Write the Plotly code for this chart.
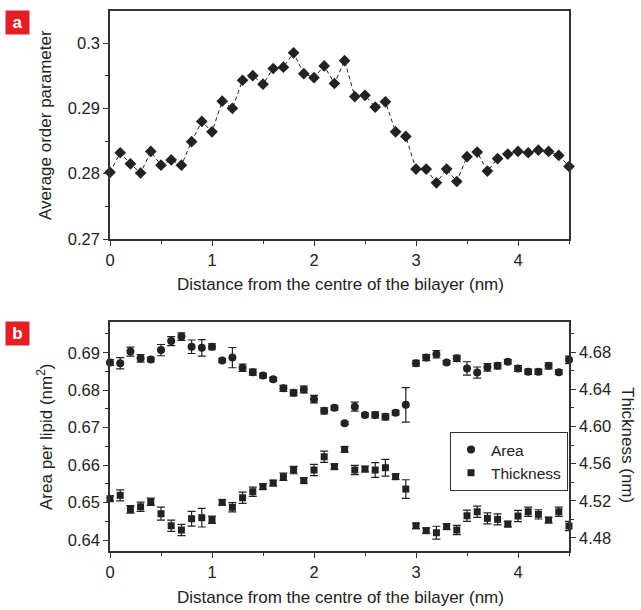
import plotly.graph_objects as go

# ---------------- data ----------------
dist = [round(0.1 * i, 1) for i in range(46)]

order_param = [0.2802, 0.2832, 0.2815, 0.2801, 0.2834, 0.2813, 0.2821, 0.2813, 0.2849, 0.2880,
               0.2864, 0.2911, 0.2900, 0.2943, 0.2950, 0.2937, 0.2961, 0.2963, 0.2985, 0.2953,
               0.2947, 0.2965, 0.2938, 0.2973, 0.2918, 0.2920, 0.2902, 0.2910, 0.2864, 0.2857,
               0.2807, 0.2807, 0.2786, 0.2807, 0.2788, 0.2826, 0.2833, 0.2804, 0.2823, 0.2830,
               0.2834, 0.2832, 0.2836, 0.2834, 0.2828, 0.2811]

area = [0.6874, 0.6872, 0.6903, 0.6885, 0.6882, 0.6907, 0.6931, 0.6943, 0.6916, 0.6913,
        0.6916, 0.6879, 0.6887, 0.6860, 0.6848, 0.6839, 0.6829, 0.6805, 0.6793, 0.6802,
        0.6776, 0.6745, 0.6753, 0.6712, 0.6756, 0.6734, 0.6734, 0.6729, 0.6740, 0.6761,
        0.6872, 0.6887, 0.6896, 0.6874, 0.6885, 0.6858, 0.6847, 0.6861, 0.6865, 0.6876,
        0.6858, 0.6849, 0.6849, 0.6865, 0.6848, 0.6881]
area_err = [0.0008, 0.0015, 0.0012, 0.0010, 0.0006, 0.0015, 0.0012, 0.0010, 0.0018, 0.0022,
            0.0008, 0.0005, 0.0027, 0.0010, 0.0008, 0.0006, 0.0005, 0.0008, 0.0008, 0.0009,
            0.0010, 0.0008, 0.0006, 0.0004, 0.0012, 0.0005, 0.0008, 0.0008, 0.0006, 0.0046,
            0.0008, 0.0008, 0.0010, 0.0005, 0.0008, 0.0018, 0.0015, 0.0010, 0.0008, 0.0006,
            0.0008, 0.0007, 0.0007, 0.0008, 0.0006, 0.0010]

thickness = [4.5222, 4.5258, 4.5107, 4.5135, 4.5189, 4.5060, 4.4930, 4.4884, 4.5006, 4.5017,
             4.4995, 4.5183, 4.5129, 4.5232, 4.5297, 4.5351, 4.5391, 4.5459, 4.5531, 4.5416,
             4.5531, 4.5674, 4.5567, 4.5754, 4.5531, 4.5542, 4.5531, 4.5556, 4.5459, 4.5326,
             4.4930, 4.4877, 4.4855, 4.4920, 4.4884, 4.5038, 4.5081, 4.5010, 4.4999, 4.4949,
             4.5035, 4.5081, 4.5053, 4.4992, 4.5081, 4.4927]
thick_err = [0.003, 0.006, 0.004, 0.005, 0.004, 0.007, 0.006, 0.006, 0.008, 0.010,
             0.004, 0.003, 0.005, 0.006, 0.005, 0.003, 0.003, 0.004, 0.004, 0.003,
             0.006, 0.006, 0.003, 0.003, 0.005, 0.003, 0.008, 0.009, 0.003, 0.010,
             0.003, 0.003, 0.007, 0.003, 0.005, 0.006, 0.006, 0.006, 0.006, 0.003,
             0.006, 0.005, 0.005, 0.003, 0.005, 0.005]

x_ticks = [0, 1, 2, 3, 4]
ya_ticks = [0.27, 0.28, 0.29, 0.30]
ya_labels = ["0.27", "0.28", "0.29", "0.3"]
yb_ticks = [0.64, 0.65, 0.66, 0.67, 0.68, 0.69]
yb_labels = ["0.64", "0.65", "0.66", "0.67", "0.68", "0.69"]
yt_ticks = [4.48, 4.52, 4.56, 4.60, 4.64, 4.68]
yt_labels = ["4.48", "4.52", "4.56", "4.60", "4.64", "4.68"]
yt_minor = [4.50, 4.54, 4.58, 4.62, 4.66, 4.70]

# ---------------- styling ----------------
FONT = "Liberation Sans, Arial, sans-serif"
INK = "#222222"
AX = "#333333"
W, H = 641, 610

def px_x(p):
    return p / W

def px_y(p):
    return 1 - p / H

fig = go.Figure()

fig.add_trace(go.Scatter(
    x=dist, y=order_param, mode="lines+markers", xaxis="x", yaxis="y",
    line=dict(color=INK, width=1, dash="4px,3px"),
    marker=dict(symbol="diamond", size=9, color=INK),
    showlegend=False, cliponaxis=False))

fig.add_trace(go.Scatter(
    x=dist, y=area, mode="markers", xaxis="x2", yaxis="y2", name="Area",
    marker=dict(symbol="circle", size=8, color=INK),
    error_y=dict(type="data", array=area_err, color=INK, thickness=1.2, width=4),
    cliponaxis=False))

fig.add_trace(go.Scatter(
    x=dist, y=thickness, mode="markers", xaxis="x2", yaxis="y3", name="Thickness",
    marker=dict(symbol="square", size=7, color=INK),
    error_y=dict(type="data", array=thick_err, color=INK, thickness=1.2, width=4),
    cliponaxis=False))

common_axis = dict(showline=True, linecolor=AX, linewidth=1.5, ticks="outside",
                   ticklen=5, tickwidth=1.2, tickcolor=AX, showgrid=False, zeroline=False,
                   automargin=False,
                   tickfont=dict(family=FONT, size=16.5, color=INK))

xa_dom = [px_x(110), px_x(569)]

fig.update_layout(
    width=W, height=H, margin=dict(l=0, r=0, t=0, b=0, pad=0, autoexpand=False),
    paper_bgcolor="white", plot_bgcolor="white",
    font=dict(family=FONT, color=INK),
    xaxis=dict(domain=xa_dom, anchor="y", range=[0, 4.5], tickvals=x_ticks,
               mirror=True, minor=dict(dtick=0.5, ticklen=3, ticks="outside", tickcolor=AX),
               **common_axis),
    yaxis=dict(domain=[px_y(239), px_y(11)], anchor="x", range=[0.27, 0.3049],
               tickvals=ya_ticks, ticktext=ya_labels, mirror=True,
               minor=dict(dtick=0.005, ticklen=3, ticks="outside", tickcolor=AX),
               **common_axis),
    xaxis2=dict(domain=xa_dom, anchor="y2", range=[0, 4.5], tickvals=x_ticks,
                mirror=True, minor=dict(dtick=0.5, ticklen=3, ticks="outside", tickcolor=AX),
                **common_axis),
    yaxis2=dict(domain=[px_y(551), px_y(322)], anchor="x2", range=[0.6371, 0.6982],
                tickvals=yb_ticks, ticktext=yb_labels,
                minor=dict(dtick=0.005, ticklen=3, ticks="outside", tickcolor=AX),
                **common_axis),
    yaxis3=dict(overlaying="y2", side="right", anchor="x2", range=[4.4658, 4.7127],
                tickvals=yt_ticks, ticktext=yt_labels,
                minor=dict(tickvals=yt_minor, ticklen=3, ticks="outside", tickcolor=AX),
                **common_axis),
    legend=dict(x=px_x(450), y=px_y(432), xanchor="left", yanchor="top",
                bordercolor=AX, borderwidth=1, bgcolor="white",
                font=dict(family=FONT, size=15.5, color=INK),
                itemwidth=30, tracegroupgap=0),
)

ann = []
title_font = dict(family=FONT, size=17, color=INK)
ann.append(dict(text="Average order parameter", x=px_x(45), y=px_y(125), xref="paper",
                yref="paper", showarrow=False, textangle=-90, font=title_font,
                xanchor="center", yanchor="middle"))
ann.append(dict(text="Area per lipid (nm<sup>2</sup>)", x=px_x(45), y=px_y(437), xref="paper",
                yref="paper", showarrow=False, textangle=-90, font=title_font,
                xanchor="center", yanchor="middle"))
ann.append(dict(text="Thickness (nm)", x=px_x(628), y=px_y(445), xref="paper",
                yref="paper", showarrow=False, textangle=90, font=title_font,
                xanchor="center", yanchor="middle"))
ann.append(dict(text="Distance from the centre of the bilayer (nm)", x=px_x(340), y=px_y(284),
                xref="paper", yref="paper", showarrow=False, font=title_font,
                xanchor="center", yanchor="middle"))
ann.append(dict(text="Distance from the centre of the bilayer (nm)", x=px_x(340), y=px_y(597),
                xref="paper", yref="paper", showarrow=False, font=title_font,
                xanchor="center", yanchor="middle"))
for lab, yc in (("a", 22.5), ("b", 333)):
    ann.append(dict(text="<b>%s</b>" % lab, x=px_x(17.5), y=px_y(yc), xref="paper",
                    yref="paper", showarrow=False, bgcolor="#e31e24", width=21, height=21,
                    borderpad=1, xanchor="center", yanchor="middle",
                    font=dict(family="Liberation Sans, Arial, sans-serif", size=17,
                              color="white")))
fig.update_layout(annotations=ann)

fig.write_html("out.html", config={"displayModeBar": False},
               post_script="document.body.style.margin='0';")
